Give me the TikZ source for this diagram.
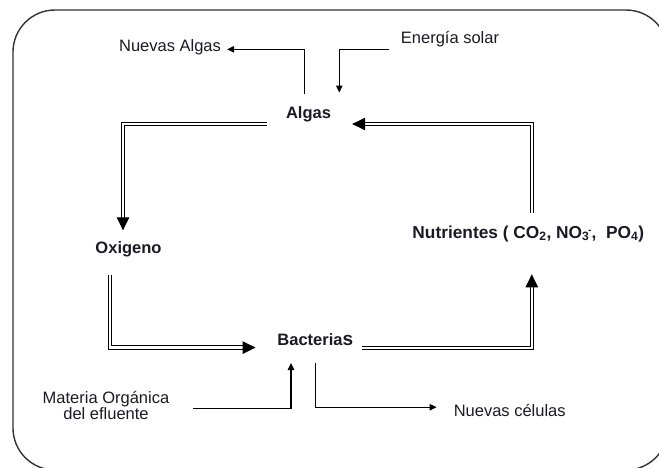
\documentclass[tikz,border=0pt]{standalone}
\usepackage{fontspec}
\setmainfont{Liberation Sans}
\usetikzlibrary{arrows.meta}
\definecolor{ink}{HTML}{1A1A24}
\begin{document}
\begin{tikzpicture}[x=1pt,y=-1pt,
  lbl/.style={inner sep=0pt,text=ink,font=\fontsize{16.5}{16}\selectfont},
  key/.style={lbl,font=\fontsize{16.5}{16}\selectfont\bfseries},
  thinarrow/.style={draw=black,line width=1.1pt,-{Triangle[length=7pt,width=6.5pt]}},
  cycle/.style={draw=black,double=white,double distance=2.4pt,line width=1.1pt,
    -{Triangle[length=13pt,width=12.5pt]}},
  frame/.style={draw=black!80,line width=1.4pt,rounded corners=42pt}]
\useasboundingbox (0,0) rectangle (659,467);
\draw[frame] (13,10) rectangle (668,470);

% labels
\node[lbl,anchor=base] (nalgas) at (170,51.5) {Nuevas Algas};
\node[lbl,anchor=base] (esolar) at (450,43.5) {Energía solar};
\node[key,anchor=base] (algas) at (308.5,118.5) {Algas};
\node[key,anchor=base] (oxig) at (128.5,253.3) {Oxigeno};
\node[key,anchor=base] (bact) at (315.3,345) {Bacteria{\fontsize{19}{19}\selectfont s}};
\node[key,anchor=base,font=\fontsize{17.3}{16}\selectfont\bfseries] (nutr) at (528.3,238.3)
  {Nutrientes ( CO\textsubscript{2}, NO\textsubscript{3}\kern-0.08em\raisebox{0.55ex}{\fontsize{10}{10}\selectfont -}\kern0.02em,\ \ PO\textsubscript{4})};
\node[lbl,align=center,anchor=center] (mat) at (106,405.5) {Materia Orgánica\\del efluente};
\node[lbl,anchor=base] (ncel) at (509.7,416.7) {Nuevas células};

% main cycle
\draw[cycle] ([shift={(-19,5.5)}]algas.base west) -| ([shift={(-5.5,-23)}]oxig.base);
\draw[cycle] ([shift={(-18.5,21.7)}]oxig.base) |- ([shift={(-21.7,2.6)}]bact.base west);
\draw[cycle] ([shift={(8.5,3)}]bact.base east) -| ([shift={(3.5,36)}]nutr.base);
\draw[cycle] ([shift={(3.5,-25)}]nutr.base) |- ([shift={(21,5.5)}]algas.base east);

% inputs and outputs
\draw[thinarrow] ([shift={(-4,-25)}]algas.base) |- ([shift={(6,-2.2)}]nalgas.base east);
\draw[thinarrow] ([shift={(-12,5.8)}]esolar.base west) -| ([shift={(30.8,-26)}]algas.base);
\draw[thinarrow] ([shift={(24,3)}]mat.east) -| ([shift={(-24.3,18)}]bact.base);
\draw[thinarrow] ([shift={(0,18)}]bact.base) |- ([shift={(-17,-9.5)}]ncel.base west);
\end{tikzpicture}
\end{document}
